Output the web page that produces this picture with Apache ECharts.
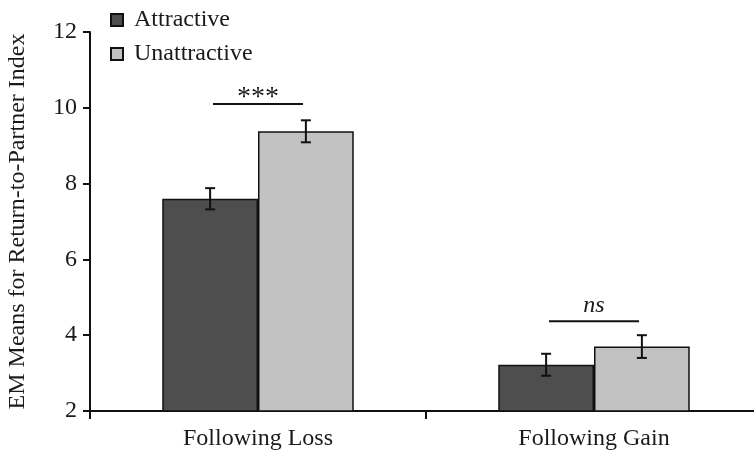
<!DOCTYPE html>
<html>
<head>
<meta charset="utf-8">
<script src="https://cdn.jsdelivr.net/npm/echarts@6/dist/echarts.min.js"></script>
<style>
  html, body { margin: 0; padding: 0; background: #ffffff; }
  #chart { width: 754px; height: 452px; }
</style>
</head>
<body>
<div id="chart"></div>
<script>
// Estimated marginal means of the return-to-partner index
const categories = ['Following Loss', 'Following Gain'];
const seriesNames = ['Attractive', 'Unattractive'];
const attractiveMeans = [7.6, 3.22];
const unattractiveMeans = [9.38, 3.7];
const attractiveErrors = [0.28, 0.29];
const unattractiveErrors = [0.29, 0.30];
// Significance brackets drawn above each pair
const sigLevels = [10.1, 4.37];
const sigLabels = ['***', 'ns'];
const yTicks = [2, 4, 6, 8, 10, 12];

const FONT = '"Liberation Serif", "Times New Roman", serif';
const TEXT = '#1a1a1a';
const GAP = 0.43; // barCategoryGap as fraction

const chart = echarts.init(document.getElementById('chart'), null, { renderer: 'canvas' });

function barWidth(api) {
  return api.size([1, 0])[0] * (1 - GAP) / 2;
}

function errorSeries(means, errs, side) {
  return {
    type: 'custom',
    z: 10,
    silent: true,
    data: means.map((m, i) => [i, m, errs[i]]),
    encode: { x: 0, y: 1 },
    renderItem: function (params, api) {
      const idx = api.value(0);
      const m = api.value(1);
      const e = api.value(2);
      const bw = barWidth(api);
      const top = api.coord([idx, m + e]);
      const bot = api.coord([idx, m - e]);
      const x = top[0] + side * bw / 2;
      const hw = 5;
      const style = { stroke: '#111', lineWidth: 2 };
      return {
        type: 'group',
        children: [
          { type: 'line', shape: { x1: x, y1: top[1], x2: x, y2: bot[1] }, style },
          { type: 'line', shape: { x1: x - hw, y1: top[1], x2: x + hw, y2: top[1] }, style },
          { type: 'line', shape: { x1: x - hw, y1: bot[1], x2: x + hw, y2: bot[1] }, style }
        ]
      };
    }
  };
}

const sigSeries = {
  type: 'custom',
  z: 10,
  silent: true,
  data: sigLevels.map((v, i) => [i, v]),
  encode: { x: 0, y: 1 },
  renderItem: function (params, api) {
    const idx = api.value(0);
    const p = api.coord([idx, api.value(1)]);
    const band = api.size([1, 0])[0];
    const half = band * 0.134;
    const label = sigLabels[params.dataIndex];
    const italic = label === 'ns';
    return {
      type: 'group',
      children: [
        { type: 'line', shape: { x1: p[0] - half, y1: p[1], x2: p[0] + half, y2: p[1] },
          style: { stroke: '#111', lineWidth: 2 } },
        { type: 'text', x: p[0], y: italic ? p[1] - 3 : p[1] + 8,
          style: { text: label, fill: TEXT, fontFamily: FONT, fontSize: italic ? 24 : 28,
                   fontStyle: italic ? 'italic' : 'normal',
                   align: 'center', verticalAlign: 'bottom' } }
      ]
    };
  }
};

const option = {
  backgroundColor: '#ffffff',
  animation: false,
  legend: {
    data: seriesNames,
    orient: 'vertical',
    left: 110,
    top: 8,
    padding: 0,
    itemWidth: 12,
    itemHeight: 12,
    itemGap: 10,
    icon: 'rect',
    textStyle: { fontFamily: FONT, fontSize: 24, color: TEXT, lineHeight: 24, padding: [0, 0, 0, 6] }
  },
  grid: { left: 90, width: 672, top: 32, bottom: 41, containLabel: false, outerBoundsMode: 'none' },
  xAxis: {
    type: 'category',
    data: categories,
    axisLine: { lineStyle: { color: '#111', width: 2 } },
    axisTick: { show: true, length: 8, lineStyle: { color: '#111', width: 2 } },
    axisLabel: { fontFamily: FONT, fontSize: 24, color: TEXT, margin: 16 }
  },
  yAxis: {
    type: 'value',
    min: yTicks[0],
    max: yTicks[yTicks.length - 1],
    interval: 2,
    name: 'EM Means for Return-to-Partner Index',
    nameLocation: 'middle',
    nameGap: 60,
    nameTextStyle: { fontFamily: FONT, fontSize: 24, color: TEXT },
    axisLine: { show: true, lineStyle: { color: '#111', width: 2 } },
    axisTick: { show: true, length: 7, lineStyle: { color: '#111', width: 2 } },
    axisLabel: { fontFamily: FONT, fontSize: 24, color: TEXT, margin: 13, padding: [6, 0, 0, 0] },
    splitLine: { show: false }
  },
  series: [
    {
      name: seriesNames[0],
      type: 'bar',
      data: attractiveMeans,
      barGap: '0%',
      barCategoryGap: (GAP * 100) + '%',
      itemStyle: { color: '#4e4e4e', borderColor: '#111', borderWidth: 1.5 }
    },
    {
      name: seriesNames[1],
      type: 'bar',
      data: unattractiveMeans,
      barGap: '0%',
      barCategoryGap: (GAP * 100) + '%',
      itemStyle: { color: '#c2c2c2', borderColor: '#111', borderWidth: 1.5 }
    },
    errorSeries(attractiveMeans, attractiveErrors, -1),
    errorSeries(unattractiveMeans, unattractiveErrors, 1),
    sigSeries
  ]
};

chart.setOption(option);
</script>
</body>
</html>
